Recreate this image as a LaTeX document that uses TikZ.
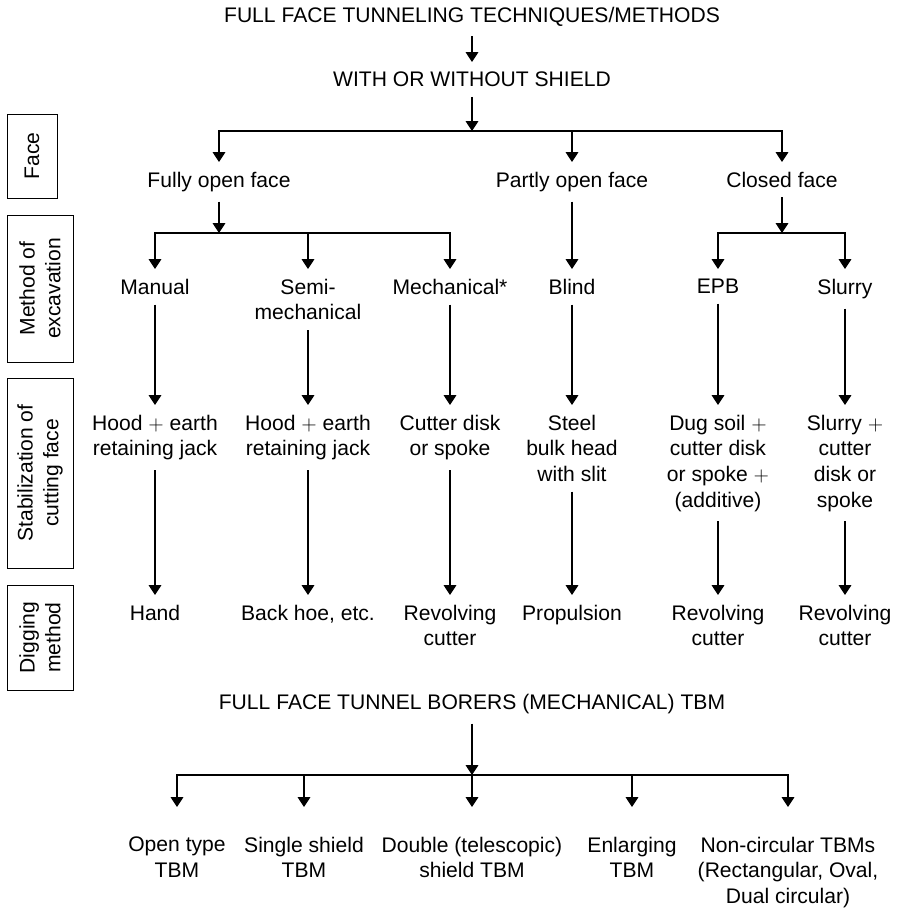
\documentclass[tikz,border=0pt]{standalone}
\usepackage{fontspec}
\setmainfont{Liberation Sans}
\usetikzlibrary{arrows.meta}
\newcommand{\lbfont}{\fontsize{15}{18.2}\selectfont}
\tikzset{
	lbl/.style={align=center,font=\lbfont,inner sep=0pt,outer ysep=0.25cm,anchor=north},
	leaf/.style={lbl,outer ysep=0.75cm},
	side/.style={draw,rotate=90,align=center,font=\lbfont,inner sep=0pt,line width=0.6pt},
	arr/.style={-{Triangle[length=7pt,width=9pt]},line width=0.75pt},
	ln/.style={line width=0.75pt,line cap=rect}
}
\begin{document}
\begin{tikzpicture}[x=0.025cm,y=-0.025cm]
		\useasboundingbox (0,0) rectangle (897,908);
		\foreach \n/\t/\x/\y/\w/\h in {face/Face/32/156/2.1/1.25,meth/{Method of\\excavation}/40/288.5/3.675/1.65,stab/{Stabilization of\\cutting face}/40/473/4.75/1.65,dig/{Digging\\method}/40/637.5/2.625/1.65}
			\node[side,minimum width=\w cm,minimum height=\h cm] (\n) at (\x,\y) {\t};
		\coordinate (b1) at (0,131);
		\coordinate (b2) at (0,233);
		\coordinate (bb) at (0,775);
		\node[lbl] (top) at (472,-3) {FULL FACE TUNNELING TECHNIQUES/METHODS};
		\node[lbl] (with) at (472,62) {WITH OR WITHOUT SHIELD};
		\node[lbl] (fof) at (219,162) {Fully open face};
		\node[lbl] (pof) at (572,162) {Partly open face};
		\node[lbl] (cf) at (782,162) {Closed face};
		\node[lbl] (man) at (155,269) {Manual};
		\node[lbl] (semi) at (308,269) {Semi-\\mechanical};
		\node[lbl] (mech) at (450,269) {Mechanical*};
		\node[lbl] (blind) at (572,269) {Blind};
		\node[lbl] (epb) at (718,269) {EPB};
		\node[lbl] (slur) at (845,269) {Slurry};
		\node[lbl] (hood1) at (155,405) {Hood $+$ earth\\retaining jack};
		\node[lbl] (hood2) at (308,405) {Hood $+$ earth\\retaining jack};
		\node[lbl] (cut) at (450,405) {Cutter disk\\or spoke};
		\node[lbl] (steel) at (572,405) {Steel\\bulk head\\with slit};
		\node[lbl] (dug) at (718,405) {Dug soil $+$\\cutter disk\\or spoke $+$\\(additive)};
		\node[lbl] (slurc) at (845,405) {Slurry $+$\\cutter\\disk or\\spoke};
		\node[lbl] (hand) at (155,595) {Hand};
		\node[lbl] (back) at (308,595) {Back hoe, etc.};
		\node[lbl] (rev1) at (450,595) {Revolving\\cutter};
		\node[lbl] (prop) at (572,595) {Propulsion};
		\node[lbl] (rev2) at (718,595) {Revolving\\cutter};
		\node[lbl] (rev3) at (845,595) {Revolving\\cutter};
		\node[lbl] (tbm) at (472,684) {FULL FACE TUNNEL BORERS (MECHANICAL) TBM};
		\foreach \i/\x/\t in {1/177/{Open type\\TBM},2/304/{Single shield\\TBM},3/472/{Double (telescopic)\\shield TBM},4/632/{Enlarging\\TBM},5/788/{Non-circular TBMs\\(Rectangular, Oval,\\Dual circular)}}
			\node[leaf] (T\i) at (\x,807) {\t};
		\draw[arr] (top) -- (with);
		\draw[arr] (with) -- (with |- b1);
		\draw[ln] (fof |- b1) -- (cf |- b1);
		\foreach \n in {fof,pof,cf} \draw[arr] (\n |- b1) -- (\n);
		\draw[arr] (fof) -- (fof |- b2);
		\draw[ln] (man |- b2) -- (mech |- b2);
		\foreach \n in {man,semi,mech} \draw[arr] (\n |- b2) -- (\n);
		\draw[arr] (pof) -- (blind);
		\draw[arr] (cf) -- (cf |- b2);
		\draw[ln] (epb |- b2) -- (slur |- b2);
		\foreach \n in {epb,slur} \draw[arr] (\n |- b2) -- (\n);
		\foreach \a/\b in {man/hood1,semi/hood2,mech/cut,blind/steel,epb/dug,slur/slurc,hood1/hand,hood2/back,cut/rev1,steel/prop,dug/rev2,slurc/rev3}
			\draw[arr] (\a) -- (\b);
		\draw[arr] (tbm) -- (tbm |- bb);
		\draw[ln] (T1 |- bb) -- (T5 |- bb);
		\foreach \i in {1,...,5} \draw[arr] (T\i |- bb) -- (T\i);
	\end{tikzpicture}
\end{document}
